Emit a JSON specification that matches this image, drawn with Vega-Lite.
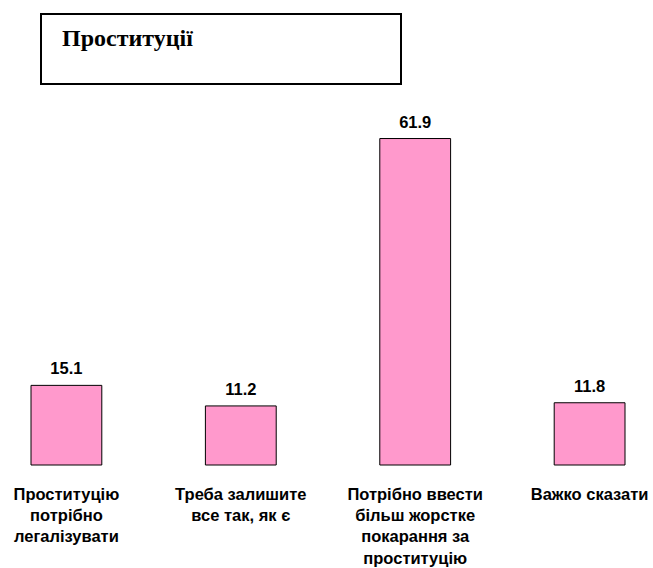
{
  "$schema": "https://vega.github.io/schema/vega-lite/v6.json",
  "autosize": {"type": "pad"},
  "padding": {"left": 13, "top": 13, "right": 5, "bottom": 5},
  "background": "white",
  "bounds": "flush",
  "spacing": 124,
  "config": {"view": {"stroke": null}},
  "vconcat": [
    {
      "spacing": 9,
      "bounds": "flush",
      "hconcat": [
        {
          "width": 1,
          "height": 70,
          "data": {"values": []},
          "mark": "text",
          "encoding": {}
        },
        {
          "width": 360,
          "height": 70,
          "view": {"stroke": "black", "strokeWidth": 2, "fill": "white"},
          "data": {"values": [{"heading": "Проституції"}]},
          "mark": {
            "type": "text",
            "align": "left",
            "baseline": "alphabetic",
            "dx": -159,
            "dy": -3,
            "font": "Liberation Serif",
            "fontSize": 24,
            "fontWeight": "bold",
            "color": "black"
          },
          "encoding": {
            "text": {"field": "heading", "type": "nominal"}
          }
        }
      ]
    },
    {
      "width": 594,
      "height": 327,
      "data": {
        "values": [
          {"answer": "Проституцію\nпотрібно\nлегалізувати", "pct": 15.1},
          {"answer": "Треба залишите\nвсе так, як є", "pct": 11.2},
          {"answer": "Потрібно ввести\nбільш жорстке\nпокарання за\nпроституцію", "pct": 61.9},
          {"answer": "Важко сказати", "pct": 11.8}
        ]
      },
      "encoding": {
        "x": {
          "field": "answer",
          "type": "nominal",
          "sort": null,
          "scale": {"paddingInner": 0.594, "paddingOuter": 0},
          "axis": {
            "title": null,
            "domain": false,
            "ticks": false,
            "labelAngle": 0,
            "labelFont": "Liberation Sans",
            "labelFontWeight": "bold",
            "labelFontSize": 16.5,
            "labelColor": "black",
            "labelLineHeight": 21.4,
            "labelPadding": 21,
            "labelBaseline": "top",
            "labelLimit": 0,
            "labelExpr": "split(datum.label, '\\n')"
          }
        },
        "y": {
          "field": "pct",
          "type": "quantitative",
          "scale": {"domain": [0, 62], "nice": false},
          "axis": null
        }
      },
      "layer": [
        {
          "mark": {"type": "bar", "fill": "#FF99CC", "stroke": "black", "strokeWidth": 1}
        },
        {
          "mark": {
            "type": "text",
            "baseline": "alphabetic",
            "dy": -11,
            "font": "Liberation Sans",
            "fontWeight": "bold",
            "fontSize": 16.5,
            "color": "black"
          },
          "encoding": {
            "text": {"field": "pct", "type": "quantitative", "format": ".1f"}
          }
        }
      ]
    }
  ]
}
